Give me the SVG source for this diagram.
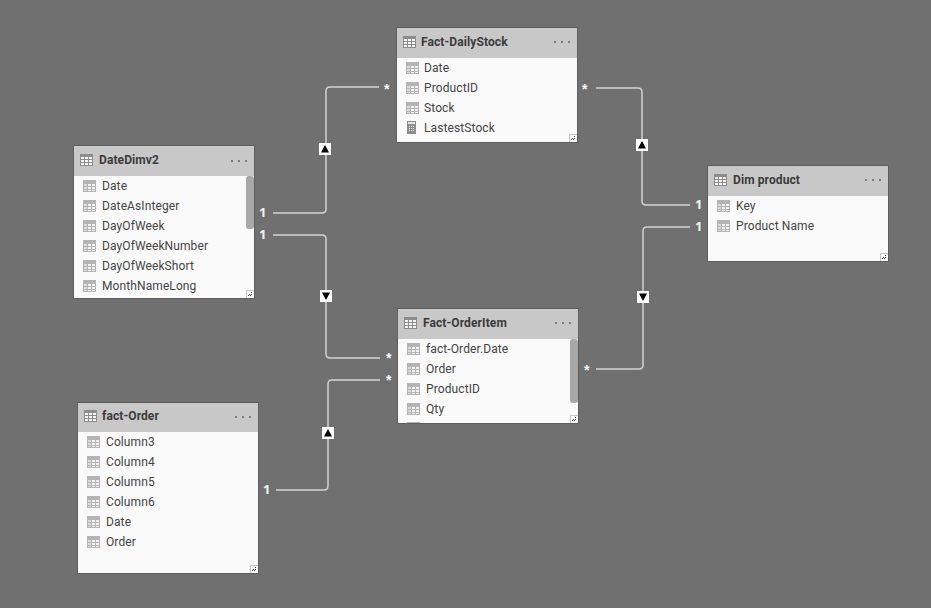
<svg xmlns="http://www.w3.org/2000/svg" width="931" height="608" viewBox="0 0 931 608">
  <style>
    .card { fill: #fafafa; stroke: #5e5e5e; stroke-width: 1; }
    .head { fill: #c8c8c8; }
    .title { font: 700 12px Roboto, "Noto Sans", sans-serif; fill: #3b3b3b; letter-spacing: 0.1px; }
    .field { font: 12px Roboto, "Noto Sans", sans-serif; fill: #444; letter-spacing: 0.1px; }
    .dots { fill: #7a7a7a; }
    .scroll { fill: #a8a8a8; }
    .link { fill: none; stroke: #d2d2d2; stroke-width: 1.5; }
    .card-one { font: 700 13px "Noto Sans", sans-serif; fill: #f0f0f0; }
    .many { font: 700 14px "Liberation Sans", sans-serif; fill: #ffffff; }
    .flag { fill: #fff; }
    .tri { fill: #000; }
  </style>
  <defs>
    <g id="t-icon">
      <rect width="13" height="12" fill="#b4b4b4"/>
      <path d="M5 4h3v2h-3zM9 4h3v2h-3zM5 7h3v2h-3zM9 7h3v2h-3zM5 10h3v1h-3zM9 10h3v1h-3z" fill="#f2f2f2"/>
      <path d="M1 4h3v2h-3zM1 7h3v2h-3zM1 10h3v1h-3z" fill="#dcdcdc"/>
    </g>
    <g id="head-icon">
      <rect width="13" height="12" fill="#8c8c8c"/>
      <path d="M1 3h3v2h-3zM5 3h3v2h-3zM9 3h3v2h-3zM1 6h3v2h-3zM5 6h3v2h-3zM9 6h3v2h-3zM1 9h3v2h-3zM5 9h3v2h-3zM9 9h3v2h-3z" fill="#f4f4f4"/>
    </g>
    <g id="calc-icon">
      <rect x="2" width="9" height="13" fill="#8c8c8c"/>
      <rect x="3" y="1" width="7" height="2" fill="#e4e4e4"/>
      <path d="M4 5h1v1h-1zM6 5h1v1h-1zM8 5h1v1h-1zM4 7h1v1h-1zM6 7h1v1h-1zM8 7h1v1h-1zM4 9h1v1h-1zM6 9h1v1h-1zM8 9h1v1h-1z" fill="#e4e4e4"/>
    </g>
    <g id="more" class="dots">
      <rect x="0" width="2" height="2"/><rect x="7" width="2" height="2"/><rect x="14" width="2" height="2"/>
    </g>
    <g id="resize">
      <path d="M0.500 8V0.500H8" fill="none" stroke="#c4c4c4"/>
      <path d="M5 2h1v1h-1zM3 4h1v1h-1zM5 4h1v1h-1zM2 5h1v1h-1zM4 5h1v1h-1z" fill="#444"/>
    </g>
    <g id="flag-up"><rect class="flag" x="-6" y="-6" width="12" height="12"/><path class="tri" d="M0 -4L4 3.500H-4Z"/></g>
    <g id="flag-down"><rect class="flag" x="-6" y="-6" width="12" height="12"/><path class="tri" d="M0 4L4 -3.500H-4Z"/></g>
  </defs>

  <rect width="931" height="608" fill="#707070"/>

  <g id="connectors">
    <path class="link" d="M273 213H322Q326 213 326 209V91Q326 87 330 87H379"/>
    <path class="link" d="M273 235H322Q326 235 326 239V354Q326 358 330 358H380"/>
    <path class="link" d="M276 490H324Q328 490 328 486V384Q328 380 332 380H380"/>
    <path class="link" d="M596 88H638Q642 88 642 92V201Q642 205 646 205H690"/>
    <path class="link" d="M596 369H639Q643 369 643 365V231Q643 227 647 227H690"/>
    <use href="#flag-up" x="325" y="149"/>
    <use href="#flag-down" x="326" y="296"/>
    <use href="#flag-up" x="328" y="433"/>
    <use href="#flag-up" x="642" y="145"/>
    <use href="#flag-down" x="643" y="297"/>
    <text class="card-one" x="259" y="217">1</text>
    <text class="card-one" x="259" y="239">1</text>
    <text class="card-one" x="263" y="494">1</text>
    <text class="card-one" x="695" y="209">1</text>
    <text class="card-one" x="695" y="231">1</text>
    <text class="many" x="384" y="94">*</text>
    <text class="many" x="582" y="94">*</text>
    <text class="many" x="386" y="363">*</text>
    <text class="many" x="386" y="385">*</text>
    <text class="many" x="584" y="375">*</text>
  </g>

  <g id="date-dim">
    <rect class="card" x="73.500" y="145.500" width="181" height="153"/>
    <rect class="head" x="74" y="146" width="180" height="30"/>
    <use href="#head-icon" x="80" y="154"/>
    <text class="title" x="99" y="164">DateDimv2</text>
    <use href="#more" x="231" y="160"/>
    <use href="#t-icon" x="83" y="180"/><text class="field" x="102" y="190">Date</text>
    <use href="#t-icon" x="83" y="200"/><text class="field" x="102" y="210">DateAsInteger</text>
    <use href="#t-icon" x="83" y="220"/><text class="field" x="102" y="230">DayOfWeek</text>
    <use href="#t-icon" x="83" y="240"/><text class="field" x="102" y="250">DayOfWeekNumber</text>
    <use href="#t-icon" x="83" y="260"/><text class="field" x="102" y="270">DayOfWeekShort</text>
    <use href="#t-icon" x="83" y="280"/><text class="field" x="102" y="290">MonthNameLong</text>
    <rect class="scroll" x="246" y="176" width="8" height="53" rx="3"/>
    <use href="#resize" x="246" y="290"/>
  </g>

  <g id="fact-daily-stock">
    <rect class="card" x="396.500" y="27.500" width="181" height="115"/>
    <rect class="head" x="397" y="28" width="180" height="30"/>
    <use href="#head-icon" x="403" y="36"/>
    <text class="title" x="421" y="46">Fact-DailyStock</text>
    <use href="#more" x="554" y="41"/>
    <use href="#t-icon" x="406" y="62"/><text class="field" x="424" y="72">Date</text>
    <use href="#t-icon" x="406" y="82"/><text class="field" x="424" y="92">ProductID</text>
    <use href="#t-icon" x="406" y="102"/><text class="field" x="424" y="112">Stock</text>
    <use href="#calc-icon" x="405" y="121"/><text class="field" x="424" y="132">LastestStock</text>
    <use href="#resize" x="569" y="134"/>
  </g>

  <g id="fact-order-item">
    <rect class="card" x="397.500" y="308.500" width="181" height="115"/>
    <rect class="head" x="398" y="309" width="180" height="30"/>
    <use href="#head-icon" x="404" y="317"/>
    <text class="title" x="423" y="327">Fact-OrderItem</text>
    <use href="#more" x="555" y="322"/>
    <use href="#t-icon" x="407" y="343"/><text class="field" x="426" y="353">fact-Order.Date</text>
    <use href="#t-icon" x="407" y="363"/><text class="field" x="426" y="373">Order</text>
    <use href="#t-icon" x="407" y="383"/><text class="field" x="426" y="393">ProductID</text>
    <use href="#t-icon" x="407" y="403"/><text class="field" x="426" y="413">Qty</text>
    <rect x="407" y="422" width="13" height="1" fill="#b4b4b4"/>
    <rect class="scroll" x="570" y="339" width="8" height="64" rx="3"/>
    <use href="#resize" x="570" y="415"/>
  </g>

  <g id="dim-product">
    <rect class="card" x="707.500" y="165.500" width="181" height="96"/>
    <rect class="head" x="708" y="166" width="180" height="30"/>
    <use href="#head-icon" x="714" y="174"/>
    <text class="title" x="733" y="184">Dim product</text>
    <use href="#more" x="865" y="179"/>
    <use href="#t-icon" x="717" y="200"/><text class="field" x="736" y="210">Key</text>
    <use href="#t-icon" x="717" y="220"/><text class="field" x="736" y="230">Product Name</text>
    <use href="#resize" x="880" y="253"/>
  </g>

  <g id="fact-order">
    <rect class="card" x="77.500" y="402.500" width="181" height="171"/>
    <rect class="head" x="78" y="403" width="180" height="29"/>
    <use href="#head-icon" x="84" y="410"/>
    <text class="title" x="102" y="420">fact-Order</text>
    <use href="#more" x="235" y="416"/>
    <use href="#t-icon" x="87" y="436"/><text class="field" x="106" y="446">Column3</text>
    <use href="#t-icon" x="87" y="456"/><text class="field" x="106" y="466">Column4</text>
    <use href="#t-icon" x="87" y="476"/><text class="field" x="106" y="486">Column5</text>
    <use href="#t-icon" x="87" y="496"/><text class="field" x="106" y="506">Column6</text>
    <use href="#t-icon" x="87" y="516"/><text class="field" x="106" y="526">Date</text>
    <use href="#t-icon" x="87" y="536"/><text class="field" x="106" y="546">Order</text>
    <use href="#resize" x="250" y="565"/>
  </g>
</svg>
